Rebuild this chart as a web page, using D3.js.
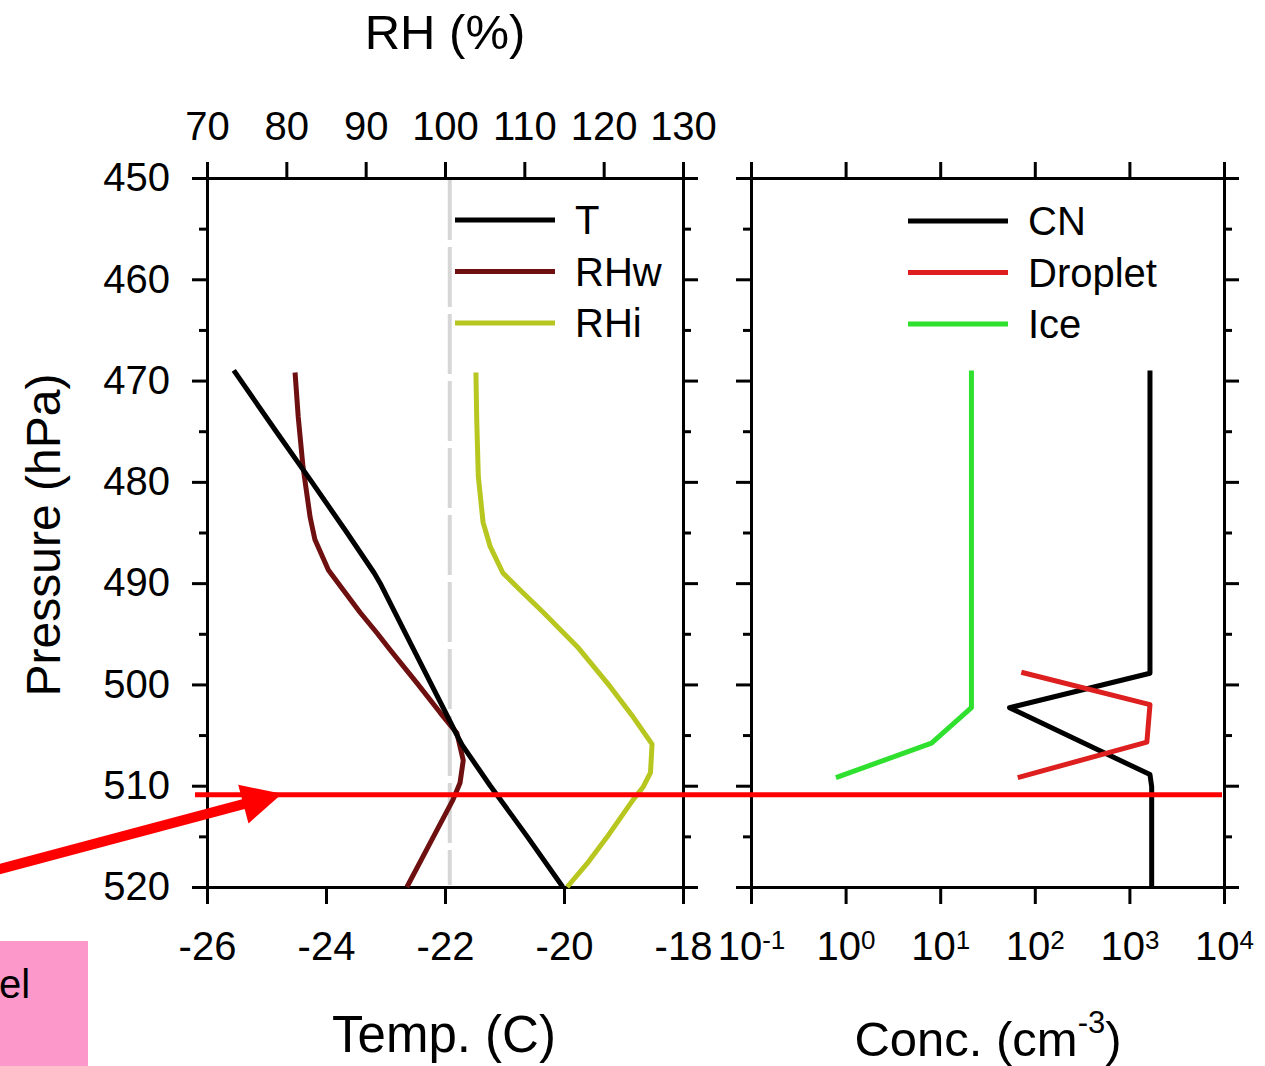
<!DOCTYPE html>
<html>
<head>
<meta charset="utf-8">
<script src="https://cdn.jsdelivr.net/npm/d3@7"></script>
<style>
  body { margin: 0; background: #fff; }
  svg { display: block; font-family: Arial, "Liberation Sans", sans-serif; }
</style>
</head>
<body>
<svg id="chart" width="1265" height="1066"></svg>
<script>
"use strict";

const tempP = [469, 475, 480, 485, 489, 490, 495, 500, 503, 505, 506, 510, 515, 520];
const tempV = [-25.55, -24.84, -24.24, -23.65, -23.19, -23.09, -22.66, -22.23, -21.97, -21.80, -21.71, -21.24, -20.62, -20.02];

const rhwP = [469.2, 473.6, 478.5, 483.5, 485.7, 488.7, 490.7, 492.9, 494.9, 496.6, 499.9, 502.8, 504.8, 507.5, 509.7, 511.4, 515.1, 520];
const rhwV = [81.1, 81.5, 82.1, 83.0, 83.6, 85.3, 87.2, 89.3, 91.4, 93.1, 96.5, 99.4, 101.5, 102.3, 101.9, 101.0, 98.5, 95.2];

const rhiP = [469.2, 473.9, 479.5, 484.0, 486.4, 489.0, 490.7, 492.9, 496.3, 500.2, 503.2, 505.9, 508.7, 510.1, 511.4, 515.1, 517.7, 520];
const rhiV = [103.9, 104.0, 104.2, 104.8, 105.7, 107.3, 109.5, 112.4, 116.7, 120.8, 123.7, 126.1, 125.9, 125.0, 123.7, 120.4, 117.9, 115.4];

const cnP = [469, 498.9, 502.3, 508.9, 510.1, 520];
const cnV = [1650, 1650, 54, 1650, 1720, 1720];
const dropP = [498.8, 502.0, 505.7, 509.2];
const dropV = [72, 1650, 1530, 66];
const iceP = [469, 502.3, 505.8, 509.2];
const iceV = [21.4, 21.4, 8.1, 0.79];

const rhRef = 100.6;      // grey dashed saturation line
const markP = 510.9;      // red marker level

const pMajor = [450, 460, 470, 480, 490, 500, 510, 520];
const pMinor = [455, 465, 475, 485, 495, 505, 515];
const tTicks = [-26, -24, -22, -20, -18];
const rhTicks = [70, 80, 90, 100, 110, 120, 130];
const cTicks = [0.1, 1, 10, 100, 1000, 10000];

const leftLegend = [["T", "#000000"], ["RHw", "#6e1010"], ["RHi", "#b8c620"]];
const rightLegend = [["CN", "#000000"], ["Droplet", "#dd1f1f"], ["Ice", "#2fe02f"]];

const svg = d3.select("#chart");
svg.append("rect").attr("width", 1265).attr("height", 1066).attr("fill", "#fff");

// scales
const yP = d3.scaleLinear().domain([450, 520]).range([178, 887]);
const xT = d3.scaleLinear().domain([-26, -18]).range([207, 683]);
const xRH = d3.scaleLinear().domain([70, 130]).range([207, 683]);
const xC = d3.scaleLog().domain([0.1, 10000]).range([751, 1224]);

const FS = 40;
const plain = d => String(d);   // keep ascii hyphen for negatives

function styleAxis(g) {
  g.selectAll("path.domain").attr("stroke", "#000").attr("stroke-width", 3);
  g.selectAll(".tick line").attr("stroke", "#000").attr("stroke-width", 3);
  g.selectAll(".tick text").attr("font-size", FS).attr("fill", "#000")
    .attr("font-family", "Arial, 'Liberation Sans', sans-serif");
}

// y axes: major + minor on both sides of both panels
function yAxes(x, side, labels) {
  const mk = side === "left" ? d3.axisLeft : d3.axisRight;
  const gMaj = svg.append("g").attr("transform", `translate(${x},0)`)
    .call(mk(yP).tickValues(pMajor).tickSize(15).tickSizeOuter(0).tickPadding(22)
      .tickFormat(labels ? plain : () => ""));
  styleAxis(gMaj);
  const gMin = svg.append("g").attr("transform", `translate(${x},0)`)
    .call(mk(yP).tickValues(pMinor).tickSize(8).tickSizeOuter(0).tickFormat(() => ""));
  styleAxis(gMin);
}
yAxes(207, "left", true);
yAxes(683, "right", false);
yAxes(751, "left", false);
yAxes(1224, "right", false);

// left panel bottom (temperature) and top (RH)
styleAxis(svg.append("g").attr("transform", "translate(0,887)")
  .call(d3.axisBottom(xT).tickValues(tTicks).tickSize(17).tickSizeOuter(0).tickPadding(28)
    .tickFormat(plain)));
styleAxis(svg.append("g").attr("transform", "translate(0,178)")
  .call(d3.axisTop(xRH).tickValues(rhTicks).tickSize(16).tickSizeOuter(0).tickPadding(22)
    .tickFormat(plain)));

// right panel bottom (log conc) and top
const gCB = svg.append("g").attr("transform", "translate(0,887)")
  .call(d3.axisBottom(xC).tickValues(cTicks).tickSize(17).tickSizeOuter(0).tickPadding(28)
    .tickFormat(() => ""));
styleAxis(gCB);
gCB.selectAll(".tick text").each(function(d) {
  const t = d3.select(this);
  t.append("tspan").text("10");
  t.append("tspan").attr("dy", "-0.42em").attr("font-size", 26)
    .text(Math.round(Math.log10(d)));
});
styleAxis(svg.append("g").attr("transform", "translate(0,178)")
  .call(d3.axisTop(xC).tickValues(cTicks).tickSize(16).tickSizeOuter(0).tickFormat(() => "")));

// saturation reference line
svg.append("line")
  .attr("x1", xRH(rhRef)).attr("x2", xRH(rhRef))
  .attr("y1", yP(450) + 2).attr("y2", yP(520) - 2)
  .attr("stroke", "#d6d6d6").attr("stroke-width", 4).attr("stroke-dasharray", "60,7");

// profile curves
function profile(ps, vs, xs, color) {
  const pts = ps.map((p, i) => [xs(vs[i]), yP(p)]);
  svg.append("path").datum(pts)
    .attr("d", d3.line())
    .attr("fill", "none").attr("stroke", color).attr("stroke-width", 5)
    .attr("stroke-linejoin", "round");
}
profile(rhiP, rhiV, xRH, leftLegend[2][1]);
profile(rhwP, rhwV, xRH, leftLegend[1][1]);
profile(tempP, tempV, xT, leftLegend[0][1]);
profile(iceP, iceV, xC, rightLegend[2][1]);
profile(cnP, cnV, xC, rightLegend[0][1]);
profile(dropP, dropV, xC, rightLegend[1][1]);

// legends
function legend(items, x0, y0) {
  items.forEach(([name, color], i) => {
    const y = y0 + i * 51.5;
    svg.append("line").attr("x1", x0).attr("x2", x0 + 100).attr("y1", y).attr("y2", y)
      .attr("stroke", color).attr("stroke-width", 5);
    svg.append("text").attr("x", x0 + 120).attr("y", y).attr("dy", "0.36em")
      .attr("font-size", FS).text(name);
  });
}
legend(leftLegend, 455, 220);
legend(rightLegend, 908, 221);

// axis titles
svg.append("text").attr("x", 445).attr("y", 49).attr("text-anchor", "middle")
  .attr("font-size", 49).text("RH (%)");
svg.append("text").attr("transform", "translate(60,535) rotate(-90)")
  .attr("text-anchor", "middle").attr("font-size", 48).text("Pressure (hPa)");
svg.append("text").attr("x", 444).attr("y", 1052).attr("text-anchor", "middle")
  .attr("font-size", 51).text("Temp. (C)");
const conc = svg.append("text").attr("x", 988).attr("y", 1056).attr("text-anchor", "middle")
  .attr("font-size", 49);
conc.append("tspan").text("Conc. (cm");
conc.append("tspan").attr("dy", -23).attr("font-size", 31).text("-3");
conc.append("tspan").attr("dy", 23).text(")");

// red annotation: marker level and arrow
svg.append("line").attr("x1", 195).attr("x2", 1222).attr("y1", yP(markP)).attr("y2", yP(markP))
  .attr("stroke", "#ff0000").attr("stroke-width", 5);
const tip = [282, yP(markP) - 1], tail = [0, 869];
const ang = Math.atan2(tip[1] - tail[1], tip[0] - tail[0]);
const ux = Math.cos(ang), uy = Math.sin(ang);
const bx = tip[0] - 40 * ux, by = tip[1] - 40 * uy;
svg.append("line").attr("x1", tail[0] - 5).attr("y1", tail[1] + 1.3)
  .attr("x2", bx + 2 * ux).attr("y2", by + 2 * uy)
  .attr("stroke", "#ff0000").attr("stroke-width", 10);
svg.append("polygon")
  .attr("points", [[tip[0], tip[1]], [bx - 20 * uy, by + 20 * ux], [bx + 20 * uy, by - 20 * ux]].map(p => p.join(",")).join(" "))
  .attr("fill", "#ff0000");

// pink label box (cropped)
svg.append("rect").attr("x", 0).attr("y", 941).attr("width", 88).attr("height", 125).attr("fill", "#fd98ca");
svg.append("text").attr("x", -1).attr("y", 998).attr("font-size", 40).text("el");
</script>
</body>
</html>
